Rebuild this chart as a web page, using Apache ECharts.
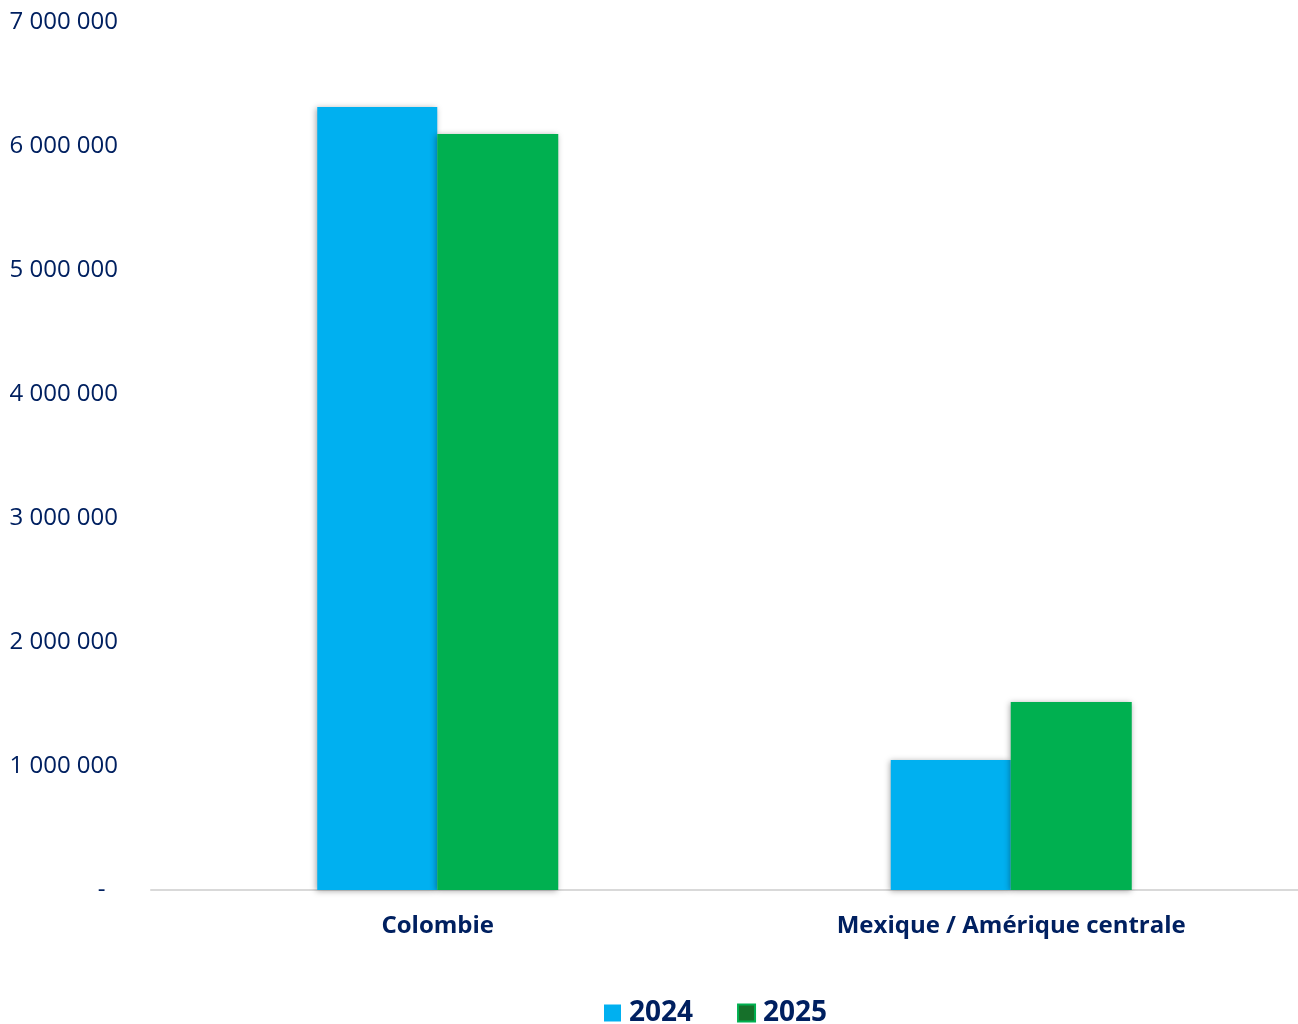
<!DOCTYPE html>
<html><head><meta charset="utf-8">
<script src="https://cdn.jsdelivr.net/npm/echarts@6/dist/echarts.min.js"></script>
<style>html,body{margin:0;padding:0;background:#fff}#c{width:1298px;height:1024px}</style>
</head><body><div id="c"></div>
<script>
const categories = ['Colombie', 'Mexique / Amérique centrale'];
const values2024 = [6315000, 1048000];
const values2025 = [6097000, 1516000];
const seriesNames = ['2024', '2025'];
const yTicks = [0, 1000000, 2000000, 3000000, 4000000, 5000000, 6000000, 7000000];

const navy = '#002060';
const fmt = v => v === 0 ? '-  ' : String(v).replace(/\B(?=(\d{3})+(?!\d))/g, ' ');
const chart = echarts.init(document.getElementById('c'));
const shadow = {shadowBlur: 6, shadowColor: 'rgba(0,0,0,0.35)', shadowOffsetX: -1, shadowOffsetY: 1};
chart.setOption({
  animation: false,
  textStyle: {fontFamily: 'Open Sans'},
  grid: {left: 151, right: -1, top: 22, bottom: 134},
  legend: {
    bottom: -8, left: 599, itemWidth: 17, itemHeight: 17, itemGap: 44,
    textStyle: {color: navy, fontWeight: 'bold', fontSize: 28, fontFamily: 'Open Sans', padding: [0, 0, 0, 3]},
    data: [
      {name: seriesNames[0], icon: 'rect', itemStyle: {color: '#00B0F0'}},
      {name: seriesNames[1], icon: 'rect', itemStyle: {color: '#16702a', borderColor: '#00B050', borderWidth: 2}}
    ]
  },
  xAxis: {
    type: 'category', data: categories,
    axisLine: {lineStyle: {color: '#d9d9d9', width: 2}},
    axisTick: {show: false},
    axisLabel: {color: navy, fontWeight: 'bold', fontSize: 24, margin: 24, fontFamily: 'Open Sans'}
  },
  yAxis: {
    type: 'value', min: yTicks[0], max: yTicks[yTicks.length - 1], interval: 1000000,
    splitLine: {show: false}, axisLine: {show: false}, axisTick: {show: false},
    axisLabel: {color: navy, fontSize: 24, margin: 33, formatter: fmt, fontFamily: 'Open Sans'}
  },
  series: [
    {name: seriesNames[0], type: 'bar', data: values2024, barWidth: 120, barGap: '0%',
     itemStyle: Object.assign({color: '#00B0F0'}, shadow)},
    {name: seriesNames[1], type: 'bar', data: values2025, barWidth: 121, barGap: '0%',
     itemStyle: Object.assign({color: '#00B050'}, shadow)}
  ]
});
</script></body></html>
